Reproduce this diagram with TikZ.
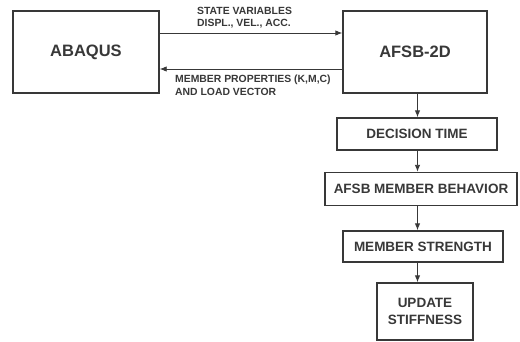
\documentclass[tikz,border=0pt]{standalone}
\usepackage{fontspec}
\setmainfont{Liberation Sans}
\usetikzlibrary{arrows.meta,calc}
\definecolor{ink}{gray}{0.22}
\begin{document}
\begin{tikzpicture}[x=1pt,y=-1pt,
  box/.style={draw=ink,line width=1.4pt,text=ink,font=\bfseries,inner sep=0pt,align=center},
  lbl/.style={text=ink,font=\bfseries\fontsize{10.4}{12}\selectfont,inner sep=0pt,anchor=west},
  arr/.style={draw=ink,line width=0.9pt,-{Latex[length=7pt,width=5.5pt]}}]
\useasboundingbox (0,0) rectangle (520,341);
\fill[white] (0,0) rectangle (520,341);
\node[box,minimum width=146pt,minimum height=82pt,font=\bfseries\fontsize{16.5}{18}\selectfont] (abaqus) at (86,52) {ABAQUS};
\node[box,minimum width=144pt,minimum height=82pt,font=\bfseries\fontsize{16.5}{18}\selectfont] (afsb) at (415,52) {AFSB-2D};
\node[box,minimum width=160pt,minimum height=32pt,font=\bfseries\fontsize{13.5}{15}\selectfont] (dec) at (417,134) {DECISION TIME};
\node[box,minimum width=192pt,minimum height=33pt,font=\bfseries\fontsize{13.5}{15}\selectfont] (beh) at (421,189) {AFSB MEMBER BEHAVIOR};
\node[box,minimum width=160pt,minimum height=31pt,font=\bfseries\fontsize{13.5}{15}\selectfont] (str) at (423,246.5) {MEMBER STRENGTH};
\node[box,minimum width=96pt,minimum height=57pt,font=\bfseries\fontsize{13.5}{17}\selectfont] (upd) at (425,311.5) {UPDATE\\STIFFNESS};
\coordinate (col) at (417.5,0);
\coordinate (top) at (0,33);
\coordinate (bot) at (0,69);
\draw[arr] (abaqus.east |- top) -- (afsb.west |- top);
\draw[arr] (afsb.west |- bot) -- (abaqus.east |- bot);
\draw[arr] (afsb.south -| col) -- (dec.north -| col);
\draw[arr] (dec.south -| col) -- (beh.north -| col);
\draw[arr] (beh.south -| col) -- (str.north -| col);
\draw[arr] (str.south -| col) -- (upd.north -| col);
\node[lbl] (sv1) at (197,11) {STATE VARIABLES};
\node[lbl] (sv2) at (197,23.5) {DISPL., VEL., ACC.};
\node[lbl] (mp1) at (175,80) {MEMBER PROPERTIES (K,M,C)};
\node[lbl] (mp2) at (175,91.5) {AND LOAD VECTOR};
\end{tikzpicture}
\end{document}
